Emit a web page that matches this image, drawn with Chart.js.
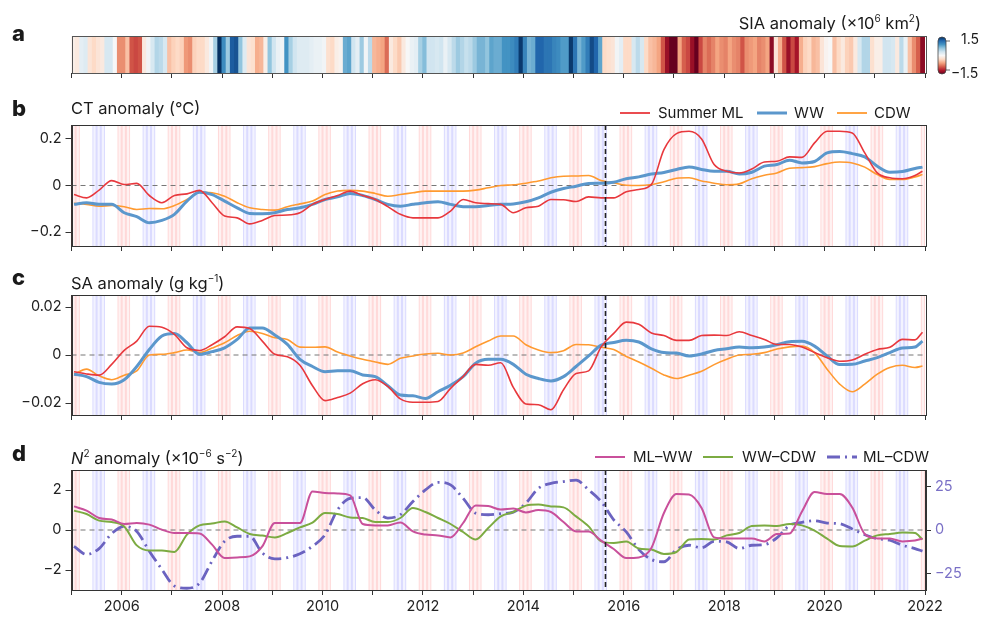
<!DOCTYPE html>
<html>
<head>
<meta charset="utf-8">
<script src="https://cdn.jsdelivr.net/npm/chart.js@4.4.1/dist/chart.umd.min.js"></script>
<style>
  body { margin: 0; background: #fff; font-family: Inter, "Noto Sans", sans-serif; color: #1a1a1a; }
  #page { position: relative; width: 987px; height: 621px; overflow: hidden; }
  #page canvas { position: absolute; left: 0; }
  .txt { position: absolute; white-space: nowrap; line-height: 24px; }
  .letter { font-weight: 800; font-size: 22px; }
  .title { font-size: 16.5px; }
  .leg { position: absolute; white-space: nowrap; font-size: 15px; line-height: 20px; }
  .leg svg { position: absolute; top: 0; }
</style>
</head>
<body>
<div id="page">
  <canvas id="chartA" width="987" height="90" style="top:0px"></canvas>
  <canvas id="chartB" width="987" height="170" style="top:90px"></canvas>
  <canvas id="chartC" width="987" height="170" style="top:260px"></canvas>
  <canvas id="chartD" width="987" height="186" style="top:435px"></canvas>

  <div class="txt letter" style="left:12px;top:21px">a</div>
  <div class="txt letter" style="left:12px;top:96px">b</div>
  <div class="txt letter" style="left:12px;top:265px">c</div>
  <div class="txt letter" style="left:12px;top:441px">d</div>

  <div class="txt title" style="right:66px;top:6px">SIA anomaly (×10<sup style="font-size:10px">6</sup> km<sup style="font-size:10px">2</sup>)</div>
  <div class="txt title" style="left:71px;top:96px">CT anomaly (°C)</div>
  <div class="txt title" style="left:71px;top:266px">SA anomaly (g kg<sup style="font-size:10px">−1</sup>)</div>
  <div class="txt title" style="left:71px;top:441px"><i>N</i><sup style="font-size:10px">2</sup> anomaly (×10<sup style="font-size:10px">−6</sup> s<sup style="font-size:10px">−2</sup>)</div>

  <div class="txt" style="left:961px;top:27px;font-size:14px">1.5</div>
  <div class="txt" style="left:951px;top:61px;font-size:14px">−1.5</div>

  <div class="leg" style="left:620px;top:103px"><svg width="30" height="20"><line x1="0" y1="10" x2="30" y2="10" stroke="#e8383d" stroke-width="1.8"/></svg><span style="margin-left:38px">Summer ML</span></div>
  <div class="leg" style="left:757px;top:103px"><svg width="30" height="20"><line x1="0" y1="10" x2="30" y2="10" stroke="#5b97cc" stroke-width="3"/></svg><span style="margin-left:37px">WW</span></div>
  <div class="leg" style="left:837px;top:103px"><svg width="30" height="20"><line x1="0" y1="10" x2="30" y2="10" stroke="#ff9a30" stroke-width="1.8"/></svg><span style="margin-left:37px">CDW</span></div>

  <div class="leg" style="left:595px;top:447px"><svg width="30" height="20"><line x1="0" y1="10" x2="30" y2="10" stroke="#c9509b" stroke-width="2"/></svg><span style="margin-left:38px">ML–WW</span></div>
  <div class="leg" style="left:703px;top:447px"><svg width="30" height="20"><line x1="0" y1="10" x2="30" y2="10" stroke="#7cab42" stroke-width="2"/></svg><span style="margin-left:39px">WW–CDW</span></div>
  <div class="leg" style="left:827px;top:447px"><svg width="30" height="20"><line x1="0" y1="10" x2="30" y2="10" stroke="#6b63c0" stroke-width="2.8" stroke-dasharray="13 5 2 5"/></svg><span style="margin-left:36px">ML–CDW</span></div>
</div>

<script>
// monthly SIA anomaly, Jan 2005 .. Dec 2021 (x10^6 km2)
const siaAnomaly = [
  -0.1, -0.15, 0.15, 0.2, -0.2, -0.3, -0.2, -0.15, 0.25, 0.25, 0.0, -0.7,
  -0.7, -0.45, -0.95, -1.0, -0.95, -0.15, 0.05, 0.25, 0.45, 0.4, 0.25, -0.45,
  -0.35, -0.3, -0.35, -0.65, -0.7, -0.35, -0.3, -0.3, -0.15, 0.05, 0.5, 1.5,
  0.95, 0.55, 1.25, 1.3, 0.6, 0.2, -0.2, -0.25, -0.55, -0.5, -0.1, 0.6,
  0.3, 0.1, 0.05, 0.9, 0.5, 0.3, 0.2, 0.2, 0.2, 0.15, 0.1, 0.1,
  0.05, -0.25, -0.3, -0.1, -0.05, 0.75, 0.8, 0.3, 0.15, 0.55, 0.05, 0.4,
  -0.5, -0.55, -0.6, -0.85, -0.15, -0.3, -0.4, -0.15, 0.0, 0.1, 0.15, 0.5,
  0.65, 0.3, 0.3, 0.25, 0.3, 0.1, 0.25, 0.4, 0.55, 0.45, 0.35, 0.4,
  0.55, 0.7, 0.7, 0.6, 0.8, 0.75, 0.75, 0.9, 0.9, 0.95, 1.05, 1.45,
  1.0, 0.7, 0.75, 1.2, 1.2, 1.1, 1.1, 1.0, 0.95, 0.85, 0.85, 1.45,
  1.1, 0.7, 0.85, 1.05, 1.35, 1.2, 0.8, -0.3, -0.25, -0.2, 0.05, 0.15,
  -0.3, -0.3, 0.25, 0.4, 0.25, -0.3, -0.45, -0.5, -0.6, -0.95, -1.3, -1.5,
  -1.5, -0.6, -0.9, -1.0, -1.3, -1.5, -1.0, -0.75, -0.85, -0.75, -0.6, -0.7,
  -0.75, -0.6, -0.7, -0.75, -0.95, -0.7, -0.65, -0.6, -0.75, -0.7, -0.6, -1.35,
  -0.2, -0.55, -0.95, -1.3, -1.0, -1.25, -0.55, -0.35, -0.3, -0.5, -0.45, -0.2,
  -0.05, 0.0, -0.45, -0.3, -0.15, -0.35, -0.4, -0.15, 0.25, 0.45, 0.45, -0.25,
  -0.1, -0.1, 0.3, 0.3, 0.25, -0.15, 0.4, 0.1, -0.45, -0.7, -0.9, -1.35
];

const times = [
  2005.05, 2005.30, 2005.55, 2005.80, 2006.05, 2006.30, 2006.55, 2006.80,
  2007.05, 2007.30, 2007.55, 2007.80, 2008.05, 2008.30, 2008.55, 2008.80,
  2009.05, 2009.30, 2009.55, 2009.80, 2010.05, 2010.30, 2010.55, 2010.80,
  2011.05, 2011.30, 2011.55, 2011.80, 2012.05, 2012.30, 2012.55, 2012.80,
  2013.05, 2013.30, 2013.55, 2013.80, 2014.05, 2014.30, 2014.55, 2014.80,
  2015.05, 2015.30, 2015.55, 2015.80, 2016.05, 2016.30, 2016.55, 2016.80,
  2017.05, 2017.30, 2017.55, 2017.80, 2018.05, 2018.30, 2018.55, 2018.80,
  2019.05, 2019.30, 2019.55, 2019.80, 2020.05, 2020.30, 2020.55, 2020.80,
  2021.05, 2021.30, 2021.55, 2021.80, 2021.95
];

// panel b: CT anomaly (degC)
const ctSummerML = [
  -0.039, -0.053, -0.02, 0.021, 0.004, 0.009, -0.043, -0.074, -0.043, -0.036, -0.021, -0.074,
  -0.131, -0.139, -0.165, -0.15, -0.129, -0.127, -0.117, -0.081, -0.06, -0.043, -0.024, -0.043,
  -0.06, -0.091, -0.124, -0.139, -0.139, -0.139, -0.11, -0.06, -0.074, -0.078, -0.081, -0.117,
  -0.096, -0.089, -0.06, -0.061, -0.069, -0.049, -0.053, -0.053, -0.027, -0.017, 0.004, 0.154,
  0.223, 0.233, 0.2, 0.09, 0.061, 0.054, 0.071, 0.101, 0.104, 0.123, 0.121, 0.183,
  0.233, 0.233, 0.226, 0.14, 0.054, 0.033, 0.029, 0.043, 0.061
];
const ctWW = [
  -0.081, -0.074, -0.081, -0.081, -0.117, -0.134, -0.16, -0.15, -0.124, -0.067, -0.029, -0.039,
  -0.067, -0.096, -0.12, -0.121, -0.117, -0.103, -0.096, -0.081, -0.06, -0.049, -0.034, -0.043,
  -0.06, -0.081, -0.089, -0.081, -0.074, -0.07, -0.081, -0.091, -0.091, -0.086, -0.081, -0.079,
  -0.07, -0.053, -0.029, -0.013, -0.003, 0.009, 0.01, 0.014, 0.029, 0.037, 0.049, 0.056,
  0.069, 0.08, 0.069, 0.061, 0.061, 0.049, 0.057, 0.083, 0.09, 0.109, 0.097, 0.103,
  0.14, 0.146, 0.137, 0.123, 0.083, 0.057, 0.06, 0.073, 0.079
];
const ctCDW = [
  -0.077, -0.081, -0.089, -0.086, -0.091, -0.103, -0.099, -0.1, -0.086, -0.06, -0.029, -0.031,
  -0.046, -0.074, -0.096, -0.103, -0.106, -0.091, -0.079, -0.067, -0.039, -0.024, -0.021, -0.024,
  -0.034, -0.046, -0.039, -0.031, -0.024, -0.024, -0.024, -0.024, -0.02, -0.01, 0.0, 0.003,
  0.01, 0.019, 0.033, 0.04, 0.041, 0.043, 0.021, 0.011, 0.001, 0.0, 0.004, 0.016,
  0.031, 0.033, 0.019, 0.01, 0.003, 0.007, 0.029, 0.044, 0.054, 0.074, 0.077, 0.081,
  0.094, 0.101, 0.097, 0.079, 0.047, 0.026, 0.026, 0.037, 0.047
];

// panel c: SA anomaly (g/kg)
const saSummerML = [
  -0.007, -0.0079, -0.0084, -0.0039, 0.0019, 0.0058, 0.012, 0.0116, 0.0086, 0.003, 0.0019, 0.0043,
  0.0076, 0.0117, 0.011, 0.0058, 0.0003, -0.0007, -0.0043, -0.0128, -0.019, -0.0177, -0.0159, -0.012,
  -0.0103, -0.0131, -0.0183, -0.0197, -0.0197, -0.0194, -0.0139, -0.009, -0.0039, -0.0043, -0.0032, -0.0135,
  -0.0204, -0.0207, -0.0228, -0.0145, -0.0077, -0.0066, 0.0034, 0.009, 0.0137, 0.0128, 0.0092, 0.0081,
  0.0061, 0.0061, 0.0081, 0.0083, 0.0081, 0.0097, 0.0081, 0.0065, 0.0044, 0.0044, 0.0033, 0.001,
  -0.0011, -0.0026, -0.0021, 0.0003, 0.0023, 0.0032, 0.0065, 0.0063, 0.0095
];
const saWW = [
  -0.008, -0.009, -0.0114, -0.0121, -0.0103, -0.0048, 0.0023, 0.0079, 0.009, 0.0051, 0.0003, 0.0014,
  0.003, 0.0065, 0.0113, 0.0113, 0.0083, 0.0044, -0.0018, -0.0048, -0.007, -0.0066, -0.0066, -0.0083,
  -0.009, -0.0128, -0.0167, -0.017, -0.0181, -0.0153, -0.0126, -0.009, -0.0034, -0.0018, -0.0018, -0.0039,
  -0.008, -0.0098, -0.0108, -0.009, -0.0048, -0.0004, 0.0041, 0.0052, 0.0061, 0.0054, 0.0026, 0.001,
  0.0008, -0.0004, 0.0004, 0.0019, 0.0026, 0.0033, 0.003, 0.0033, 0.0043, 0.0055, 0.0057, 0.0037,
  -0.0004, -0.004, -0.0039, -0.0025, -0.0011, 0.001, 0.0029, 0.0033, 0.0058
];
const saCDW = [
  -0.008, -0.0059, -0.0087, -0.0103, -0.0084, -0.0066, 0.0, 0.0003, 0.001, 0.0021, 0.001, 0.0029,
  0.0051, 0.0081, 0.0099, 0.009, 0.0072, 0.0065, 0.0033, 0.0032, 0.0034, 0.0012, -0.0004, -0.0018,
  -0.0029, -0.0039, -0.0014, -0.0004, 0.0004, 0.0007, 0.0, 0.0008, 0.0034, 0.0058, 0.0079, 0.0079,
  0.0043, 0.0021, 0.001, 0.0018, 0.0044, 0.0043, 0.0032, 0.0023, -0.0006, -0.0029, -0.0055, -0.0083,
  -0.0098, -0.0084, -0.0068, -0.004, -0.0018, 0.0, 0.0003, 0.001, 0.0025, 0.0034, 0.0037, 0.001,
  -0.0059, -0.0121, -0.0153, -0.0121, -0.008, -0.0052, -0.0043, -0.0052, -0.0046
];

// panel d: N2 anomaly (x10^-6 s^-2); ML-CDW on the right axis
const n2MLWW = [
  1.18, 0.97, 0.6, 0.52, 0.3, 0.35, 0.27, 0.02, -0.15, -0.15, -0.17, -0.73,
  -1.4, -1.37, -1.32, -0.82, 0.35, 0.35, 0.35, 1.93, 1.85, 1.83, 1.73, 0.3,
  0.23, 0.23, 0.38, -0.07, -0.23, -0.27, -0.37, 0.35, 1.23, 1.2, 1.02, 1.07,
  0.88, 1.0, 0.9, 0.4, -0.07, -0.08, -0.53, -0.95, -1.4, -1.37, -0.9, 0.85,
  1.8, 1.77, 1.1, -0.37, -0.43, -0.43, -0.43, -0.57, -0.2, -0.18, 0.93, 1.9,
  1.8, 1.8, 1.13, -0.2, -0.42, -0.43, -0.57, -0.53, -0.43
];
const n2WWCDW = [
  0.97, 0.8, 0.47, 0.4, 0.18, -0.77, -1.02, -1.02, -1.1, -0.23, 0.23, 0.32,
  0.43, 0.13, -0.2, -0.28, -0.37, -0.15, 0.13, 0.37, 0.85, 0.8, 0.63, 0.6,
  0.4, 0.4, 0.6, 1.1, 0.9, 0.6, 0.3, -0.1, -0.48, 0.1, 0.68, 0.9,
  1.22, 1.27, 1.18, 1.13, 0.68, 0.18, -0.57, -0.65, -0.57, -0.93, -0.98, -1.2,
  -1.1, -0.48, -0.45, -0.48, -0.27, -0.15, 0.2, 0.23, 0.2, 0.3, 0.23, -0.03,
  -0.43, -0.8, -0.82, -0.53, -0.27, -0.2, -0.13, -0.15, -0.48
];
const n2MLCDW = [
  -9.4, -14.1, -10.7, -2.1, 2.1, -0.8, -12.2, -22.7, -32.3, -33.6, -30.7, -17.9,
  -6.5, -3.6, -3.6, -13.2, -16.6, -16, -13.7, -9.4, -2.7, 11.6, 18.3, 18.7,
  11.6, 6.9, 8.8, 16.4, 23.1, 27.5, 26, 18.3, 9.7, 8.8, 9.4, 10.3,
  15.5, 24, 26.9, 27.9, 28.8, 23.1, 16.4, 5.9, -1.1, -11.3, -17, -18.3,
  -11.3, -8.8, -10.3, -6.5, -6.9, -10.7, -8.8, -8.4, -4.6, 2.7, 4.4, 5.3,
  4, 3.6, 0.6, -2.7, -5, -5.9, -8.8, -10.7, -12.2
];

const yearTicks = [2005, 2006, 2007, 2008, 2009, 2010, 2011, 2012, 2013, 2014, 2015, 2016, 2017, 2018, 2019, 2020, 2021, 2022];
const labelledYears = [2006, 2008, 2010, 2012, 2014, 2016, 2018, 2020, 2022];
const ctTicks = [-0.2, 0, 0.2];
const saTicks = [-0.02, 0, 0.02];
const n2Ticks = [-2, 0, 2];
const n2RightTicks = [-25, 0, 25];
const summerMonths = [12, 1, 2];
const winterMonths = [6, 7, 8];
const bandYears = yearTicks.slice(0, -1);
const eventDate = 2015.625;

const FONT = 'Inter, "Noto Sans", sans-serif';

// matplotlib RdBu
const rdbuStops = ['#67001f', '#b2182b', '#d6604d', '#f4a582', '#fddbc7', '#f7f7f7', '#d1e5f0', '#92c5de', '#4393c3', '#2166ac', '#053061'];
function hexRgb(h) { return [1, 3, 5].map(i => parseInt(h.substr(i, 2), 16)); }
function rdbu(v) {
  let t = Math.min(1, Math.max(0, (v + 1.5) / 3)) * (rdbuStops.length - 1);
  const i = Math.min(rdbuStops.length - 2, Math.floor(t));
  const f = t - i;
  const a = hexRgb(rdbuStops[i]), b = hexRgb(rdbuStops[i + 1]);
  return `rgb(${a.map((c, k) => Math.round(c + (b[k] - c) * f)).join(',')})`;
}

const fmt = v => v === 0 ? '0' : String(v).replace('-', '−');

function xAxis(height, showLabels) {
  return {
    type: 'linear', min: 2005, max: 2022, offset: false,
    afterBuildTicks: s => { s.ticks = yearTicks.map(v => ({ value: v })); },
    afterFit: s => { s.height = height; },
    grid: { display: true, drawOnChartArea: false, drawTicks: true, tickLength: 5, color: '#333', offset: false },
    border: { display: true, color: '#333' },
    ticks: {
      autoSkip: false, maxRotation: 0, padding: 3, color: '#222', font: { family: FONT, size: 14.5 },
      callback: v => (showLabels && labelledYears.includes(v)) ? String(v) : ''
    }
  };
}

function yAxis(min, max, ticks, opts = {}) {
  return Object.assign({
    type: 'linear', min, max,
    afterBuildTicks: s => { s.ticks = ticks.map(v => ({ value: v })); },
    afterFit: s => { s.width = 71.5; },
    grid: { drawOnChartArea: false, tickLength: 6, color: '#333' },
    border: { color: '#333' },
    ticks: { padding: 4, color: '#222', font: { family: FONT, size: 14.5 }, callback: v => fmt(v) }
  }, opts);
}

const bandsPlugin = {
  id: 'bands',
  beforeDatasetsDraw(chart) {
    const { ctx, chartArea: a, scales: { x } } = chart;
    ctx.save();
    ctx.beginPath();
    ctx.rect(a.left, a.top, a.width, a.height);
    ctx.clip();
    const draw = (t, fill, edge) => {
      const x0 = x.getPixelForValue(t), x1 = x.getPixelForValue(t + 1 / 12);
      ctx.fillStyle = fill;
      ctx.fillRect(x0, a.top, x1 - x0, a.height);
      ctx.strokeStyle = edge;
      ctx.lineWidth = 1;
      ctx.beginPath();
      ctx.moveTo(x0 + 0.5, a.top); ctx.lineTo(x0 + 0.5, a.bottom);
      ctx.moveTo(x1 - 0.5, a.top); ctx.lineTo(x1 - 0.5, a.bottom);
      ctx.stroke();
    };
    bandYears.forEach(yr => {
      summerMonths.forEach(m => draw(yr + (m - 1) / 12, 'rgba(255,90,90,0.08)', 'rgba(255,90,90,0.16)'));
      winterMonths.forEach(m => draw(yr + (m - 1) / 12, 'rgba(100,100,255,0.08)', 'rgba(100,100,255,0.17)'));
    });
    // zero reference
    const y0 = chart.scales.y.getPixelForValue(0);
    ctx.strokeStyle = '#777';
    ctx.setLineDash([5, 4]);
    ctx.beginPath();
    ctx.moveTo(a.left, y0); ctx.lineTo(a.right, y0);
    ctx.stroke();
    ctx.restore();
  },
  afterDatasetsDraw(chart) {
    const { ctx, chartArea: a, scales: { x } } = chart;
    const xe = Math.round(x.getPixelForValue(eventDate)) + 0.5;
    ctx.save();
    ctx.strokeStyle = '#222';
    ctx.lineWidth = 1.6;
    ctx.setLineDash([5, 3]);
    ctx.beginPath();
    ctx.moveTo(xe, a.top); ctx.lineTo(xe, a.bottom);
    ctx.stroke();
    ctx.restore();
  }
};

const framePlugin = {
  id: 'frame',
  afterDraw(chart, args, opts) {
    const { ctx, chartArea: a } = chart;
    ctx.save();
    ctx.strokeStyle = opts.color || '#333';
    ctx.lineWidth = 1;
    ctx.strokeRect(Math.round(a.left) + 0.5, Math.round(a.top) + 0.5, Math.round(a.width), Math.round(a.height));
    ctx.restore();
  }
};

const colorbarPlugin = {
  id: 'colorbar',
  afterDraw(chart) {
    const { ctx, chartArea: a } = chart;
    const x0 = a.right + 13, w = 8, top = a.top + 1, bot = a.bottom + 1;
    const g = ctx.createLinearGradient(0, top, 0, bot);
    rdbuStops.forEach((c, i) => g.addColorStop(1 - i / (rdbuStops.length - 1), c));
    ctx.save();
    ctx.beginPath();
    ctx.roundRect(x0, top, w, bot - top, 4);
    ctx.fillStyle = g;
    ctx.fill();
    ctx.strokeStyle = '#444';
    ctx.lineWidth = 0.8;
    ctx.stroke();
    ctx.beginPath();
    [top + 4, bot - 4].forEach(yy => { ctx.moveTo(x0 + w, yy); ctx.lineTo(x0 + w + 4, yy); });
    ctx.stroke();
    ctx.restore();
  }
};

const baseOptions = (padding) => ({
  responsive: false, animation: false, devicePixelRatio: 1, events: [],
  layout: { padding },
  plugins: { legend: { display: false }, tooltip: { enabled: false } },
  elements: { point: { radius: 0 }, line: { cubicInterpolationMode: 'monotone' } }
});

const series = arr => times.map((t, i) => ({ x: t, y: arr[i] }));

// panel a: SIA anomaly stripes
new Chart(document.getElementById('chartA'), {
  type: 'bar',
  data: {
    datasets: [{
      data: siaAnomaly.map((v, i) => ({ x: 2005 + (i + 0.5) / 12, y: 1 })),
      backgroundColor: c => rdbu(siaAnomaly[c.dataIndex]),
      borderWidth: 0, inflateAmount: 0.6, barPercentage: 1, categoryPercentage: 1
    }]
  },
  options: Object.assign(baseOptions({ top: 36, left: 71.5, right: 62, bottom: 0 }), {
    scales: {
      x: xAxis(17, false),
      y: { min: 0, max: 1, display: false }
    },
    plugins: { legend: { display: false }, tooltip: { enabled: false }, frame: { color: '#555' } }
  }),
  plugins: [framePlugin, colorbarPlugin]
});

// panel b: CT anomaly
new Chart(document.getElementById('chartB'), {
  type: 'line',
  data: {
    datasets: [
      { label: 'Summer ML', data: series(ctSummerML), borderColor: '#e8383d', borderWidth: 1.6 },
      { label: 'WW', data: series(ctWW), borderColor: '#5b97cc', borderWidth: 3 },
      { label: 'CDW', data: series(ctCDW), borderColor: '#ff9a30', borderWidth: 1.6 }
    ]
  },
  options: Object.assign(baseOptions({ top: 35, left: 0, right: 62, bottom: 0 }), {
    scales: { x: xAxis(14, false), y: yAxis(-0.26, 0.26, ctTicks) }
  }),
  plugins: [bandsPlugin, framePlugin]
});

// panel c: SA anomaly
new Chart(document.getElementById('chartC'), {
  type: 'line',
  data: {
    datasets: [
      { label: 'Summer ML', data: series(saSummerML), borderColor: '#e8383d', borderWidth: 1.6 },
      { label: 'WW', data: series(saWW), borderColor: '#5b97cc', borderWidth: 3 },
      { label: 'CDW', data: series(saCDW), borderColor: '#ff9a30', borderWidth: 1.6 }
    ]
  },
  options: Object.assign(baseOptions({ top: 35, left: 0, right: 62, bottom: 0 }), {
    scales: { x: xAxis(15, false), y: yAxis(-0.025, 0.025, saTicks) }
  }),
  plugins: [bandsPlugin, framePlugin]
});

// panel d: N2 anomaly
new Chart(document.getElementById('chartD'), {
  type: 'line',
  data: {
    datasets: [
      { label: 'ML–WW', data: series(n2MLWW), borderColor: '#c9509b', borderWidth: 2, yAxisID: 'y' },
      { label: 'WW–CDW', data: series(n2WWCDW), borderColor: '#7cab42', borderWidth: 2, yAxisID: 'y' },
      { label: 'ML–CDW', data: series(n2MLCDW), borderColor: '#6b63c0', borderWidth: 2.8, borderDash: [13, 5, 2, 5], yAxisID: 'y2' }
    ]
  },
  options: Object.assign(baseOptions({ top: 35, left: 0, right: 0, bottom: 0 }), {
    scales: {
      x: xAxis(31, true),
      y: yAxis(-3, 3, n2Ticks),
      y2: yAxis(-34.6, 34.6, n2RightTicks, {
        position: 'right',
        afterFit: s => { s.width = 62; },
        ticks: { padding: 4, color: '#7a70c6', font: { family: FONT, size: 14.5 }, callback: v => fmt(v) }
      })
    }
  }),
  plugins: [bandsPlugin, framePlugin]
});
</script>
</body>
</html>
